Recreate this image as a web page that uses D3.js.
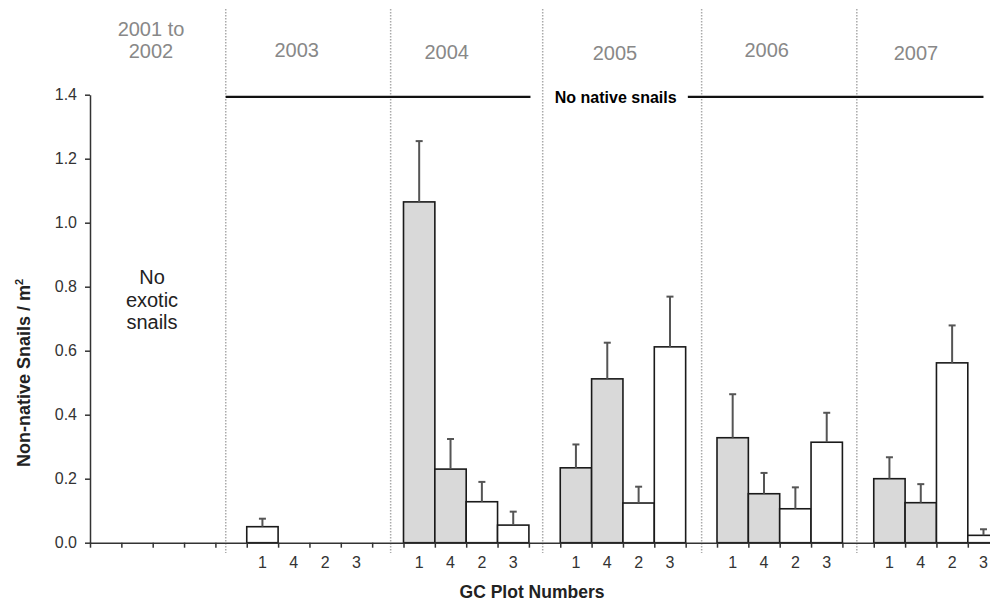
<!DOCTYPE html>
<html>
<head>
<meta charset="utf-8">
<script src="https://cdn.jsdelivr.net/npm/d3@7"></script>
<style>
  body { margin: 0; background: #fff; }
  text { font-family: "Liberation Sans", Arial, sans-serif; }
</style>
</head>
<body>
<div id="chart"></div>
<script>
(function () {

    // data
    let years = ['2003', '2004', '2005', '2006', '2007'];
    let plots = ['1', '4', '2', '3'];
    let yTicks = [0, 0.2, 0.4, 0.6, 0.8, 1.0, 1.2, 1.4];

    let means2003 = [0.05, 0, 0, 0];
    let errs2003  = [0.025, 0, 0, 0];
    let means2004 = [1.065, 0.23, 0.128, 0.055];
    let errs2004  = [0.19, 0.094, 0.062, 0.042];
    let means2005 = [0.234, 0.512, 0.124, 0.612];
    let errs2005  = [0.073, 0.113, 0.051, 0.157];
    let means2006 = [0.328, 0.153, 0.106, 0.314];
    let errs2006  = [0.136, 0.065, 0.067, 0.092];
    let means2007 = [0.2, 0.125, 0.562, 0.023];
    let errs2007  = [0.067, 0.058, 0.117, 0.019];

    // shaded plots (1 and 4) from 2004 on
    let shadedPlots = ['1', '4'];
    let shadedYears = ['2004', '2005', '2006', '2007'];

    let means = [means2003, means2004, means2005, means2006, means2007];
    let errs  = [errs2003, errs2004, errs2005, errs2006, errs2007];

    let width = 990, height = 603;
    let svg = d3.select('#chart').append('svg')
        .attr('width', width)
        .attr('height', height);

    // slots: 4 empty slots for 2001-2002, then a gap + 4 plots for every year
    let slots = ['pre0', 'pre1', 'pre2', 'pre3'];
    years.forEach(function (yr) {
        slots.push('gap' + yr);
        plots.forEach(function (p) { slots.push(yr + '-' + p); });
    });

    let left = 90, top = 94.7, bottom = 542.7;
    let step = 31.35;

    let x = d3.scaleBand()
        .domain(slots)
        .range([left, left + slots.length * step])
        .padding(0);

    let xIdx = d3.scaleLinear()
        .domain([0, slots.length])
        .range([left, left + slots.length * step]);

    let y = d3.scaleLinear()
        .domain([0, 1.4])
        .range([bottom, top]);

    let bars = [];
    years.forEach(function (yr, i) {
        plots.forEach(function (p, j) {
            bars.push({
                key: yr + '-' + p, year: yr, plot: p,
                mean: means[i][j], err: errs[i][j],
                shaded: shadedPlots.indexOf(p) >= 0 && shadedYears.indexOf(yr) >= 0
            });
        });
    });

    // dotted separators between years (in slot units)
    let dividers = [4.33, 9.59, 14.44, 19.51, 24.46];
    svg.append('g').selectAll('line')
        .data(dividers)
        .enter()
        .append('line')
        .attr('x1', function (d) { return xIdx(d); })
        .attr('x2', function (d) { return xIdx(d); })
        .attr('y1', 9)
        .attr('y2', 553)
        .attr('stroke', '#aaa')
        .attr('stroke-width', 1.5)
        .attr('stroke-dasharray', '1.5,1.5');

    // year headings
    let yearPos = [
        {lines: ['2001 to', '2002'], x: 151, y: 36},
        {lines: ['2003'], x: 296.7, y: 57},
        {lines: ['2004'], x: 446.7, y: 59},
        {lines: ['2005'], x: 615, y: 60},
        {lines: ['2006'], x: 766.7, y: 57},
        {lines: ['2007'], x: 916, y: 60}
    ];
    yearPos.forEach(function (d) {
        let t = svg.append('text')
            .attr('x', d.x)
            .attr('y', d.y)
            .attr('text-anchor', 'middle')
            .attr('font-size', 20)
            .attr('fill', '#888');
        d.lines.forEach(function (l, i) {
            t.append('tspan').attr('x', d.x).attr('dy', i === 0 ? 0 : 22).text(l);
        });
    });

    // "No native snails" bracket
    let lineVal = 1.393;
    let spans = [[4.33, 14.05], [19.07, 28.5]];
    svg.append('g').selectAll('line')
        .data(spans)
        .enter()
        .append('line')
        .attr('x1', function (d) { return xIdx(d[0]); })
        .attr('x2', function (d) { return xIdx(d[1]); })
        .attr('y1', y(lineVal))
        .attr('y2', y(lineVal))
        .attr('stroke', '#111')
        .attr('stroke-width', 2.2);
    svg.append('text')
        .attr('x', xIdx(16.77))
        .attr('y', y(lineVal) + 6)
        .attr('text-anchor', 'middle')
        .attr('font-size', 16)
        .attr('font-weight', 'bold')
        .attr('fill', '#000')
        .text('No native snails');

    // "No exotic snails"
    let noExotic = svg.append('text')
        .attr('x', 152)
        .attr('y', 284)
        .attr('text-anchor', 'middle')
        .attr('font-size', 20)
        .attr('fill', '#222');
    ['No', 'exotic', 'snails'].forEach(function (l, i) {
        noExotic.append('tspan').attr('x', 152).attr('dy', i === 0 ? 0 : 22.5).text(l);
    });

    // bars
    svg.append('g').selectAll('rect')
        .data(bars.filter(function (d) { return d.mean > 0; }))
        .enter()
        .append('rect')
        .attr('x', function (d) { return x(d.key); })
        .attr('y', function (d) { return y(d.mean); })
        .attr('width', x.bandwidth())
        .attr('height', function (d) { return bottom - y(d.mean); })
        .attr('fill', function (d) { return d.shaded ? '#d9d9d9' : '#fff'; })
        .attr('stroke', '#1a1a1a')
        .attr('stroke-width', 1.6);

    // error bars
    let errG = svg.append('g')
        .selectAll('g')
        .data(bars.filter(function (d) { return d.err > 0; }))
        .enter()
        .append('g')
        .attr('stroke', '#555')
        .attr('stroke-width', 2);
    errG.append('line')
        .attr('x1', function (d) { return x(d.key) + x.bandwidth() / 2; })
        .attr('x2', function (d) { return x(d.key) + x.bandwidth() / 2; })
        .attr('y1', function (d) { return y(d.mean); })
        .attr('y2', function (d) { return y(d.mean + d.err); });
    errG.append('line')
        .attr('x1', function (d) { return x(d.key) + x.bandwidth() / 2 - 3.5; })
        .attr('x2', function (d) { return x(d.key) + x.bandwidth() / 2 + 3.5; })
        .attr('y1', function (d) { return y(d.mean + d.err); })
        .attr('y2', function (d) { return y(d.mean + d.err); });

    // y axis
    let axisY = d3.axisLeft(y)
        .tickValues(yTicks)
        .tickFormat(d3.format('.1f'))
        .tickSize(5)
        .tickSizeOuter(0)
        .tickPadding(8);
    let gY = svg.append('g')
        .attr('transform', 'translate(' + left + ',0)')
        .call(axisY);
    gY.selectAll('path, line').attr('stroke', '#333').attr('stroke-width', 1.5);
    gY.selectAll('text')
        .attr('font-family', '"Liberation Sans", Arial, sans-serif')
        .attr('font-size', 16)
        .attr('fill', '#333');

    // x axis: ticks on slot boundaries
    let axisX = d3.axisBottom(xIdx)
        .tickValues(d3.range(0, slots.length + 1))
        .tickFormat('')
        .tickSize(5)
        .tickSizeOuter(0);
    let gX = svg.append('g')
        .attr('transform', 'translate(0,' + bottom + ')')
        .call(axisX);
    gX.selectAll('path, line').attr('stroke', '#333').attr('stroke-width', 1.5);

    // plot labels under each year
    svg.append('g').selectAll('text')
        .data(bars)
        .enter()
        .append('text')
        .attr('x', function (d) { return x(d.key) + x.bandwidth() / 2; })
        .attr('y', bottom + 25)
        .attr('text-anchor', 'middle')
        .attr('font-size', 16)
        .attr('fill', '#333')
        .text(function (d) { return d.plot; });

    // axis titles
    svg.append('text')
        .attr('x', 532)
        .attr('y', 598)
        .attr('text-anchor', 'middle')
        .attr('font-size', 17.5)
        .attr('font-weight', 'bold')
        .attr('fill', '#222')
        .text('GC Plot Numbers');

    let yTitle = svg.append('text')
        .attr('transform', 'translate(30,373) rotate(-90)')
        .attr('text-anchor', 'middle')
        .attr('font-size', 18)
        .attr('font-weight', 'bold')
        .attr('fill', '#222');
    yTitle.append('tspan').text('Non-native Snails / m');
    yTitle.append('tspan').attr('font-size', 11).attr('dy', -7).text('2');

})();
</script>
</body>
</html>
